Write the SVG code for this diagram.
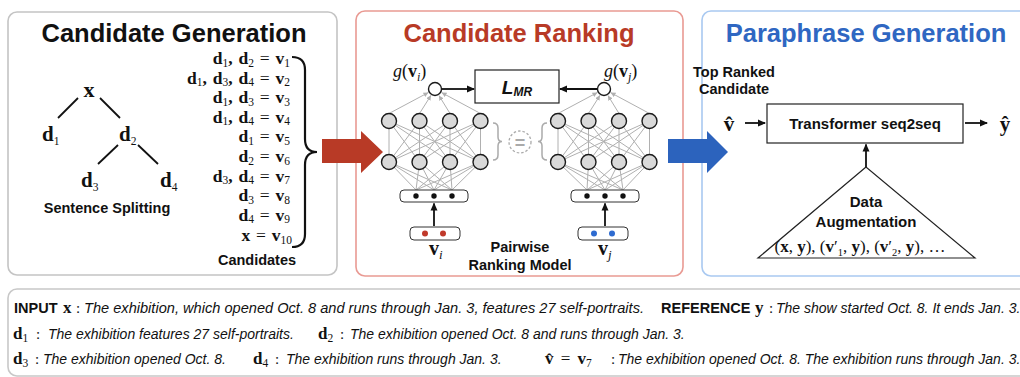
<svg xmlns="http://www.w3.org/2000/svg" width="1020" height="377" viewBox="0 0 1020 377">
<defs>
<style>
.sb{font-family:"Liberation Sans",Arial,sans-serif;font-weight:bold;fill:#111}
.mb{font-family:"Liberation Serif","Times New Roman",serif;font-weight:bold;fill:#111}
.mr{font-family:"Liberation Serif","Times New Roman",serif;fill:#111}
.sub{font-weight:normal;font-size:11.5px}
.n{font-weight:normal}
.it{font-family:"Liberation Sans",Arial,sans-serif;font-style:italic;font-size:14px;fill:#111}
.panel{fill:#fff;stroke-width:1.6}
.node{fill:#d9d9d9;stroke:#1a1a1a;stroke-width:1.4}
.out{fill:#fff;stroke:#1a1a1a;stroke-width:1.4}
.gl{stroke:#b0b0b0;stroke-width:1;fill:none}
.bl{stroke:#111;stroke-width:1.8;fill:none}
.box{fill:#fff;stroke:#222;stroke-width:1.2}
</style>
<marker id="ah" markerWidth="8" markerHeight="8" refX="7" refY="4" orient="auto" markerUnits="userSpaceOnUse"><path d="M0,0.5 L8,4 L0,7.5 z" fill="#111"/></marker>
<marker id="gh" markerWidth="5" markerHeight="5" refX="5" refY="2.5" orient="auto" markerUnits="userSpaceOnUse"><path d="M0,0 L5,2.5 L0,5 z" fill="#b0b0b0"/></marker>
</defs>
<rect width="1020" height="377" fill="#fff"/>

<!-- panels -->
<g id="panel-generation">
<rect class="panel" x="8" y="12" width="329" height="263" rx="9" stroke="#c4c4c4"/>
<text class="sb" x="174" y="42" font-size="25.5" text-anchor="middle">Candidate Generation</text>
</g>
<g id="panel-ranking">
<rect class="panel" x="356" y="11" width="327" height="265" rx="9" stroke="#e99a93"/>
<text class="sb" x="519" y="42" font-size="25.5" text-anchor="middle" style="fill:#b83a26">Candidate Ranking</text>
</g>
<g id="panel-paraphrase">
<rect class="panel" x="702" y="11" width="340" height="265" rx="9" stroke="#a9c9f1"/>
<text class="sb" x="866" y="42" font-size="25.5" text-anchor="middle" style="fill:#2f67c2">Paraphrase Generation</text>
</g>

<!-- sentence splitting tree -->
<g id="tree">
<line class="bl" x1="78" y1="98" x2="58" y2="118" stroke-width="1.6"/>
<line class="bl" x1="100" y1="98" x2="120" y2="118" stroke-width="1.6"/>
<line class="bl" x1="118" y1="145" x2="98" y2="164" stroke-width="1.6"/>
<line class="bl" x1="138" y1="145" x2="158" y2="164" stroke-width="1.6"/>
<text class="mb" x="89" y="97" font-size="22" text-anchor="middle">x</text>
<text class="mb" x="42" y="141" font-size="21">d<tspan class="sub" font-size="13" dy="4">1</tspan></text>
<text class="mb" x="119" y="141" font-size="21">d<tspan class="sub" font-size="13" dy="4">2</tspan></text>
<text class="mb" x="81" y="187" font-size="21">d<tspan class="sub" font-size="13" dy="4">3</tspan></text>
<text class="mb" x="160" y="187" font-size="21">d<tspan class="sub" font-size="13" dy="4">4</tspan></text>
<text class="sb" x="107" y="213" font-size="14.5" text-anchor="middle">Sentence Splitting</text>
</g>

<!-- candidate list -->
<g id="candidates" class="mb" font-size="17.5" text-anchor="end" word-spacing="1.5">
<text x="290" y="64">d<tspan class="sub" dy="2.5">1</tspan><tspan dy="-2.5">, d</tspan><tspan class="sub" dy="2.5">2</tspan><tspan class="n" dy="-2.5"> = </tspan>v<tspan class="sub" dy="2.5">1</tspan></text>
<text x="290" y="83.6">d<tspan class="sub" dy="2.5">1</tspan><tspan dy="-2.5">, d</tspan><tspan class="sub" dy="2.5">3</tspan><tspan dy="-2.5">, d</tspan><tspan class="sub" dy="2.5">4</tspan><tspan class="n" dy="-2.5"> = </tspan>v<tspan class="sub" dy="2.5">2</tspan></text>
<text x="290" y="103.2">d<tspan class="sub" dy="2.5">1</tspan><tspan dy="-2.5">, d</tspan><tspan class="sub" dy="2.5">3</tspan><tspan class="n" dy="-2.5"> = </tspan>v<tspan class="sub" dy="2.5">3</tspan></text>
<text x="290" y="122.8">d<tspan class="sub" dy="2.5">1</tspan><tspan dy="-2.5">, d</tspan><tspan class="sub" dy="2.5">4</tspan><tspan class="n" dy="-2.5"> = </tspan>v<tspan class="sub" dy="2.5">4</tspan></text>
<text x="290" y="142.4">d<tspan class="sub" dy="2.5">1</tspan><tspan class="n" dy="-2.5"> = </tspan>v<tspan class="sub" dy="2.5">5</tspan></text>
<text x="290" y="162">d<tspan class="sub" dy="2.5">2</tspan><tspan class="n" dy="-2.5"> = </tspan>v<tspan class="sub" dy="2.5">6</tspan></text>
<text x="290" y="181.6">d<tspan class="sub" dy="2.5">3</tspan><tspan dy="-2.5">, d</tspan><tspan class="sub" dy="2.5">4</tspan><tspan class="n" dy="-2.5"> = </tspan>v<tspan class="sub" dy="2.5">7</tspan></text>
<text x="290" y="201.2">d<tspan class="sub" dy="2.5">3</tspan><tspan class="n" dy="-2.5"> = </tspan>v<tspan class="sub" dy="2.5">8</tspan></text>
<text x="290" y="220.8">d<tspan class="sub" dy="2.5">4</tspan><tspan class="n" dy="-2.5"> = </tspan>v<tspan class="sub" dy="2.5">9</tspan></text>
<text x="292" y="241">x<tspan class="n"> = </tspan>v<tspan class="sub" dy="2.5">10</tspan></text>
</g>
<path id="big-brace" d="M292,57 Q305,57 305,70 L305,139 Q305,152 317,152 Q305,152 305,165 L305,234 Q305,247 292,247" fill="none" stroke="#111" stroke-width="2.2"/>
<text class="sb" x="257" y="265" font-size="14.5" text-anchor="middle">Candidates</text>

<!-- ranking network connectors -->
<g id="connectors">
<g class="gl">
<path d="M389,121 L389,162 M389,121 L419.5,162 M389,121 L450,162 M389,121 L480.5,162
M419.5,121 L389,162 M419.5,121 L419.5,162 M419.5,121 L450,162 M419.5,121 L480.5,162
M450,121 L389,162 M450,121 L419.5,162 M450,121 L450,162 M450,121 L480.5,162
M480.5,121 L389,162 M480.5,121 L419.5,162 M480.5,121 L450,162 M480.5,121 L480.5,162"/>
<path d="M389,162 L416,190 M389,162 L434,190 M389,162 L452,190
M419.5,162 L416,190 M419.5,162 L434,190 M419.5,162 L452,190
M450,162 L416,190 M450,162 L434,190 M450,162 L452,190
M480.5,162 L416,190 M480.5,162 L434,190 M480.5,162 L452,190"/>
<path d="M558,121 L558,162 M558,121 L588.5,162 M558,121 L619,162 M558,121 L649.5,162
M588.5,121 L558,162 M588.5,121 L588.5,162 M588.5,121 L619,162 M588.5,121 L649.5,162
M619,121 L558,162 M619,121 L588.5,162 M619,121 L619,162 M619,121 L649.5,162
M649.5,121 L558,162 M649.5,121 L588.5,162 M649.5,121 L619,162 M649.5,121 L649.5,162"/>
<path d="M558,162 L587,190 M558,162 L605,190 M558,162 L623,190
M588.5,162 L587,190 M588.5,162 L605,190 M588.5,162 L623,190
M619,162 L587,190 M619,162 L605,190 M619,162 L623,190
M649.5,162 L587,190 M649.5,162 L605,190 M649.5,162 L623,190"/>
</g>
<g class="gl" marker-end="url(#gh)">
<line x1="389" y1="113.5" x2="428.4" y2="92.5"/>
<line x1="419.5" y1="113.5" x2="431" y2="95.3"/>
<line x1="450" y1="113.5" x2="438.9" y2="95.4"/>
<line x1="480.5" y1="113.5" x2="441.6" y2="92.6"/>
<line x1="558" y1="113.5" x2="597.4" y2="92.5"/>
<line x1="588.5" y1="113.5" x2="600" y2="95.3"/>
<line x1="619" y1="113.5" x2="607.9" y2="95.4"/>
<line x1="649.5" y1="113.5" x2="610.6" y2="92.6"/>
</g>
<g class="bl" marker-end="url(#ah)">
<line x1="442" y1="89" x2="474" y2="89"/>
<line x1="597" y1="89" x2="560" y2="89"/>
<line x1="434" y1="226" x2="434" y2="203.5"/>
<line x1="605" y1="226" x2="605" y2="203.5"/>
<line x1="745" y1="123" x2="765" y2="123"/>
<line x1="965" y1="123" x2="987" y2="123"/>
<line x1="866" y1="167" x2="866" y2="144.5"/>
</g>
</g>

<!-- ranking nodes -->
<g id="left-net">
<circle class="node" cx="389" cy="121" r="7.5"/><circle class="node" cx="419.5" cy="121" r="7.5"/><circle class="node" cx="450" cy="121" r="7.5"/><circle class="node" cx="480.5" cy="121" r="7.5"/>
<circle class="node" cx="389" cy="162" r="7.5"/><circle class="node" cx="419.5" cy="162" r="7.5"/><circle class="node" cx="450" cy="162" r="7.5"/><circle class="node" cx="480.5" cy="162" r="7.5"/>
<circle class="out" cx="435" cy="89" r="6.5"/>
<rect x="400" y="190" width="68" height="12" rx="4" fill="#fff" stroke="#333" stroke-width="1"/>
<circle cx="416" cy="196" r="2.7" fill="#111"/><circle cx="434" cy="196" r="2.7" fill="#111"/><circle cx="452" cy="196" r="2.7" fill="#111"/>
<rect x="410" y="227" width="50" height="13" rx="4" fill="#fff" stroke="#333" stroke-width="1"/>
<circle cx="425" cy="233.5" r="3" fill="#c0392b"/><circle cx="443" cy="233.5" r="3" fill="#c0392b"/>
<text class="mr" x="393" y="77" font-size="18"><tspan font-style="italic">g</tspan>(<tspan font-weight="bold">v</tspan><tspan font-style="italic" font-size="12" dy="4">i</tspan><tspan dy="-4">)</tspan></text>
<text class="mb" x="429" y="255" font-size="20">v<tspan class="n" font-style="italic" font-size="13" dy="4">i</tspan></text>
</g>
<g id="right-net">
<circle class="node" cx="558" cy="121" r="7.5"/><circle class="node" cx="588.5" cy="121" r="7.5"/><circle class="node" cx="619" cy="121" r="7.5"/><circle class="node" cx="649.5" cy="121" r="7.5"/>
<circle class="node" cx="558" cy="162" r="7.5"/><circle class="node" cx="588.5" cy="162" r="7.5"/><circle class="node" cx="619" cy="162" r="7.5"/><circle class="node" cx="649.5" cy="162" r="7.5"/>
<circle class="out" cx="604" cy="89" r="6.5"/>
<rect x="571" y="190" width="68" height="12" rx="4" fill="#fff" stroke="#333" stroke-width="1"/>
<circle cx="587" cy="196" r="2.7" fill="#111"/><circle cx="605" cy="196" r="2.7" fill="#111"/><circle cx="623" cy="196" r="2.7" fill="#111"/>
<rect x="578" y="227" width="50" height="13" rx="4" fill="#fff" stroke="#333" stroke-width="1"/>
<circle cx="594" cy="233.5" r="3" fill="#2e6bd0"/><circle cx="612" cy="233.5" r="3" fill="#2e6bd0"/>
<text class="mr" x="604" y="77" font-size="18"><tspan font-style="italic">g</tspan>(<tspan font-weight="bold">v</tspan><tspan font-style="italic" font-size="12" dy="4">j</tspan><tspan dy="-4">)</tspan></text>
<text class="mb" x="598" y="255" font-size="20">v<tspan class="n" font-style="italic" font-size="13" dy="4">j</tspan></text>
</g>
<g id="shared-weights">
<path d="M493,123 Q498,123 498,128 L498,137 Q498,141.5 502,141.5 Q498,141.5 498,146 L498,155 Q498,160 493,160" fill="none" stroke="#aaa" stroke-width="1.5"/>
<path d="M547,123 Q542,123 542,128 L542,137 Q542,141.5 538,141.5 Q542,141.5 542,146 L542,155 Q542,160 547,160" fill="none" stroke="#aaa" stroke-width="1.5"/>
<circle cx="520" cy="142" r="11" fill="none" stroke="#aaa" stroke-width="1.3" stroke-dasharray="2.5 2"/>
<text class="sb" x="520" y="148.5" font-size="18" text-anchor="middle" style="fill:#aaa">=</text>
</g>
<g id="lmr">
<rect class="box" x="475" y="70" width="84" height="33"/>
<text class="sb" x="517" y="94" font-size="19" font-style="italic" text-anchor="middle">L<tspan font-size="12" dy="2">MR</tspan></text>
</g>
<text class="sb" x="520" y="252" font-size="14.5" text-anchor="middle">Pairwise</text>
<text class="sb" x="520" y="270" font-size="14.5" text-anchor="middle">Ranking Model</text>

<!-- paraphrase generation -->
<g id="top-ranked">
<text class="sb" x="734" y="77" font-size="14.5" text-anchor="middle">Top Ranked</text>
<text class="sb" x="734" y="94" font-size="14.5" text-anchor="middle">Candidate</text>
<text class="mb" x="729" y="131" font-size="21" text-anchor="middle">v&#770;</text>
</g>
<g id="transformer">
<rect class="box" x="767" y="104" width="196" height="39"/>
<text class="sb" x="865" y="129" font-size="15" text-anchor="middle">Transformer seq2seq</text>
</g>
<text class="mb" x="1005" y="131" font-size="21" text-anchor="middle">ŷ</text>
<g id="augmentation">
<polygon points="866,167 758,258 975,258" fill="#fff" stroke="#222" stroke-width="1.2"/>
<text class="sb" x="866" y="207" font-size="15" text-anchor="middle">Data</text>
<text class="sb" x="866" y="227" font-size="15" text-anchor="middle">Augmentation</text>
<text class="mr" x="860" y="252" font-size="17" text-anchor="middle">(<tspan font-weight="bold">x</tspan>, <tspan font-weight="bold">y</tspan>), (<tspan font-weight="bold">v</tspan>′<tspan font-size="10.5" dy="3.5">1</tspan><tspan dy="-3.5">, </tspan><tspan font-weight="bold">y</tspan>), (<tspan font-weight="bold">v</tspan>′<tspan font-size="10.5" dy="3.5">2</tspan><tspan dy="-3.5">, </tspan><tspan font-weight="bold">y</tspan>), …</text>
</g>

<!-- big arrows -->
<polygon id="red-arrow" points="322,139 361,139 361,131 383,152 361,173 361,163 322,163" fill="#b83a26"/>
<polygon id="blue-arrow" points="668,139 707,139 707,131 728,152 707,173 707,163 668,163" fill="#2c63bd"/>

<!-- example panel -->
<g id="example">
<rect x="8" y="289" width="1040" height="87" rx="9" fill="#fff" stroke="#c8c8c8" stroke-width="1.6"/>
<text class="sb" x="14" y="313" font-size="14.5">INPUT</text>
<text class="mb" x="63" y="313" font-size="17">x</text>
<text class="mr" x="76" y="313" font-size="15">:</text>
<text class="it" x="84" y="313" textLength="560" lengthAdjust="spacingAndGlyphs">The exhibition, which opened Oct. 8 and runs through Jan. 3, features 27 self-portraits.</text>
<text class="sb" x="661" y="313" font-size="14.5">REFERENCE</text>
<text class="mb" x="755" y="313" font-size="17">y</text>
<text class="mr" x="769" y="313" font-size="15">:</text>
<text class="it" x="776" y="313">The show started Oct. 8. It ends Jan. 3.</text>

<text class="mb" x="13" y="338.5" font-size="17">d<tspan class="sub" font-size="11" dy="3">1</tspan></text>
<text class="mr" x="36" y="338.5" font-size="15">:</text>
<text class="it" x="48" y="338.5">The exhibition features 27 self-portraits.</text>
<text class="mb" x="318" y="338.5" font-size="17">d<tspan class="sub" font-size="11" dy="3">2</tspan></text>
<text class="mr" x="340" y="338.5" font-size="15">:</text>
<text class="it" x="350" y="338.5">The exhibition opened Oct. 8 and runs through Jan. 3.</text>

<text class="mb" x="13" y="364" font-size="17">d<tspan class="sub" font-size="11" dy="3">3</tspan></text>
<text class="mr" x="35" y="364" font-size="15">:</text>
<text class="it" x="43" y="364">The exhibition opened Oct. 8.</text>
<text class="mb" x="253" y="364" font-size="17">d<tspan class="sub" font-size="11" dy="3">4</tspan></text>
<text class="mr" x="275" y="364" font-size="15">:</text>
<text class="it" x="286" y="364">The exhibition runs through Jan. 3.</text>
<text class="mb" x="545" y="364" font-size="17" word-spacing="3">v&#770;<tspan class="n"> = </tspan>v<tspan class="sub" font-size="11" dy="3">7</tspan></text>
<text class="mr" x="611" y="364" font-size="15">:</text>
<text class="it" x="618" y="364">The exhibition opened Oct. 8. The exhibition runs through Jan. 3.</text>
</g>
</svg>
